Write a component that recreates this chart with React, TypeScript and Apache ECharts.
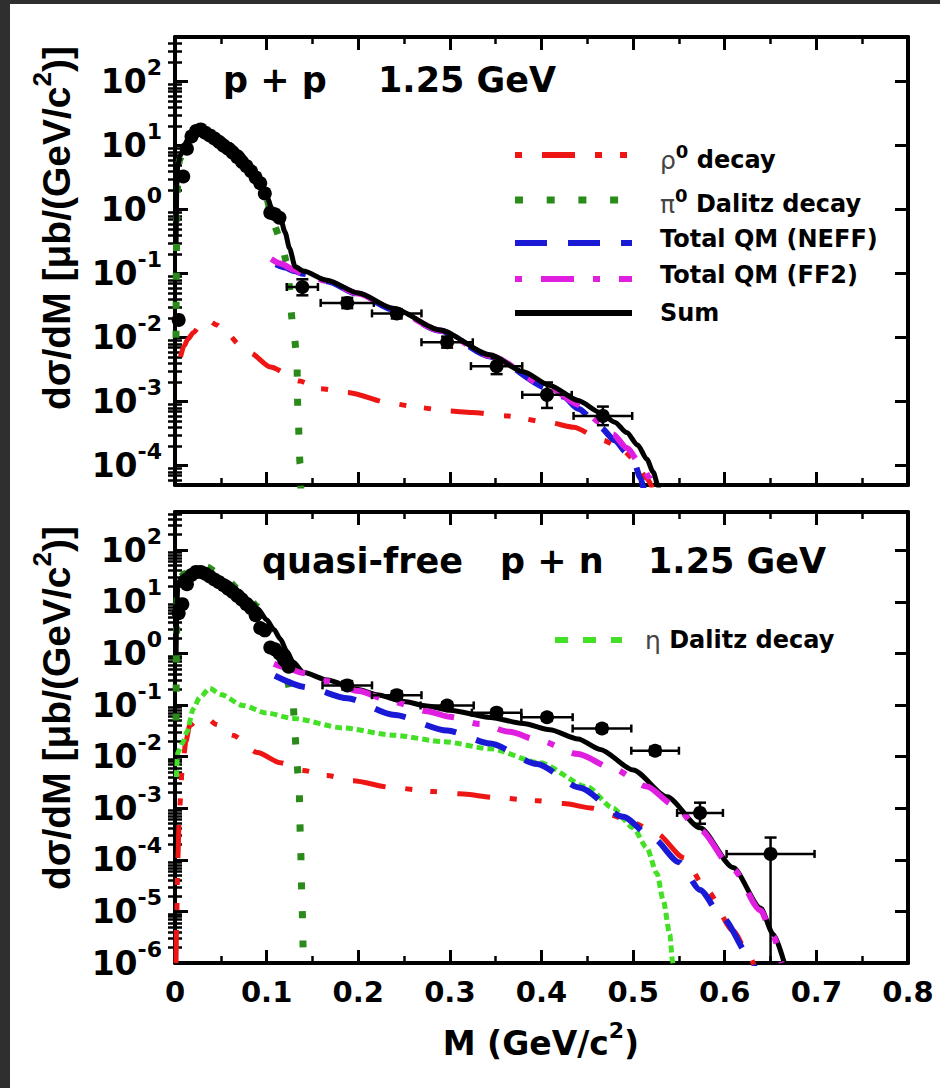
import React, { useEffect, useRef } from "react";
import * as echarts from "echarts";

const FONT = "'DejaVu Sans', sans-serif";
const FONT_H = "'Liberation Sans', Arial, sans-serif";

// ---------- p + p 1.25 GeV ----------
const ppSumM = [0.0012, 0.002, 0.003, 0.006, 0.01, 0.015, 0.02, 0.025, 0.03, 0.035, 0.04, 0.05, 0.06, 0.07, 0.08, 0.09, 0.1, 0.107, 0.115, 0.12, 0.125, 0.131, 0.14, 0.166, 0.2, 0.238, 0.289, 0.344, 0.38, 0.409, 0.44, 0.464, 0.48, 0.493, 0.505, 0.515, 0.522, 0.527, 0.531];
const ppSumV = [0.3, 2.5, 5, 7, 10, 13.5, 16.5, 19, 19, 17.5, 16, 13, 10.5, 8, 5.5, 3.4, 1.6, 0.95, 0.75, 0.45, 0.25, 0.13, 0.11, 0.079, 0.05, 0.0288, 0.0132, 0.0054, 0.00295, 0.0018, 0.00105, 0.00068, 0.00048, 0.00033, 0.00021, 0.000126, 0.000079, 0.00005, 0.000028];

const ppPi0M = [0.0011, 0.0015, 0.002, 0.003, 0.005, 0.01, 0.02, 0.03, 0.04, 0.06, 0.08, 0.1, 0.107, 0.115, 0.122, 0.129, 0.133, 0.134, 0.1365, 0.1375];
const ppPi0V = [0.01, 0.2, 0.8, 3, 6, 9.5, 16, 18, 15.5, 10, 5.3, 1.5, 0.62, 0.35, 0.15, 0.0145, 0.0052, 0.0008, 0.000107, 0.00003];

const ppRhoM = [0.006, 0.01, 0.014, 0.02, 0.028, 0.036, 0.045, 0.057, 0.07, 0.082, 0.104, 0.136, 0.158, 0.188, 0.238, 0.267, 0.297, 0.324, 0.362, 0.409, 0.435, 0.467, 0.486, 0.5, 0.508, 0.515, 0.521];
const ppRhoV = [0.005, 0.0075, 0.0095, 0.012, 0.016, 0.019, 0.016, 0.0117, 0.0079, 0.0058, 0.0035, 0.0021, 0.0016, 0.0014, 0.00093, 0.00081, 0.00072, 0.00068, 0.0006, 0.00047, 0.0004, 0.00025, 0.00019, 0.00013, 0.000083, 0.000063, 0.000045];

const ppNeffM = [0.11, 0.12, 0.13, 0.14, 0.166, 0.2, 0.238, 0.289, 0.344, 0.409, 0.424, 0.44, 0.464, 0.48, 0.493, 0.5, 0.508, 0.512];
const ppNeffV = [0.14, 0.125, 0.11, 0.1, 0.076, 0.048, 0.0275, 0.0128, 0.0051, 0.0016, 0.0012, 0.00078, 0.0004, 0.00025, 0.00016, 0.000125, 0.000065, 0.00004];

const ppFf2M = [0.105, 0.115, 0.13, 0.14, 0.166, 0.2, 0.238, 0.289, 0.344, 0.409, 0.44, 0.464, 0.478, 0.493, 0.508, 0.518, 0.523];
const ppFf2V = [0.17, 0.145, 0.115, 0.1, 0.077, 0.049, 0.0278, 0.013, 0.0052, 0.00165, 0.0009, 0.00048, 0.00031, 0.00019, 0.000107, 0.000065, 0.00004];

const ppDataM = [0.004, 0.009, 0.013, 0.018, 0.023, 0.028, 0.033, 0.038, 0.043, 0.048, 0.053, 0.058, 0.063, 0.068, 0.073, 0.078, 0.083, 0.088, 0.093, 0.098, 0.104, 0.109, 0.114];
const ppDataV = [0.019, 3.3, 9, 14, 17, 18, 16, 14.5, 13, 11.5, 10, 9, 7.8, 6.6, 5.6, 4.8, 4.0, 3.2, 2.6, 1.8, 0.9, 0.85, 0.75];

const ppErrM = [0.139, 0.188, 0.242, 0.297, 0.351, 0.406, 0.467];
const ppErrV = [0.062, 0.035, 0.024, 0.0085, 0.0036, 0.00128, 0.0006];
const ppErrDM = [0.017, 0.029, 0.027, 0.028, 0.028, 0.027, 0.032];
const ppErrLo = [0.046, 0.029, 0.02, 0.007, 0.0027, 0.0008, 0.00043];
const ppErrHi = [0.082, 0.042, 0.028, 0.0104, 0.0048, 0.002, 0.00084];

// ---------- quasi-free p + n 1.25 GeV ----------
const pnSumM = [0.0012, 0.002, 0.003, 0.006, 0.01, 0.015, 0.02, 0.027, 0.035, 0.045, 0.057, 0.07, 0.08, 0.09, 0.1, 0.108, 0.115, 0.122, 0.129, 0.14, 0.166, 0.2, 0.22, 0.25, 0.275, 0.3, 0.344, 0.38, 0.409, 0.44, 0.464, 0.5, 0.537, 0.573, 0.609, 0.639, 0.653, 0.665];
const pnSumV = [1, 8, 20, 28, 32, 36, 39, 41, 38, 31, 24, 16, 11, 7.4, 4.5, 2.9, 1.9, 1.1, 0.68, 0.43, 0.305, 0.2, 0.158, 0.117, 0.0955, 0.0794, 0.0575, 0.0437, 0.0331, 0.0219, 0.0138, 0.0055, 0.00166, 0.000417, 0.0000708, 0.0000117, 0.0000036, 0.000001];

const pnPi0M = [0.0011, 0.0015, 0.002, 0.003, 0.006, 0.01, 0.02, 0.035, 0.045, 0.057, 0.07, 0.08, 0.09, 0.1, 0.106, 0.111, 0.117, 0.122, 0.126, 0.129, 0.131, 0.133, 0.1355, 0.137, 0.1385, 0.14, 0.1408];
const pnPi0V = [0.05, 1, 8, 24, 30, 35, 42, 47, 38, 26, 17, 12, 8, 4.2, 2.3, 1.1, 0.6, 0.32, 0.18, 0.1, 0.026, 0.0076, 0.0024, 0.00021, 0.000018, 0.0000017, 0.0000008];

const pnRhoM = [0.0011, 0.002, 0.003, 0.005, 0.008, 0.012, 0.016, 0.025, 0.035, 0.045, 0.063, 0.09, 0.115, 0.14, 0.166, 0.194, 0.238, 0.282, 0.311, 0.351, 0.395, 0.424, 0.456, 0.475, 0.5, 0.526, 0.555, 0.581, 0.609, 0.628, 0.634];
const pnRhoV = [0.000001, 0.00001, 0.0001, 0.001, 0.006, 0.02, 0.04, 0.052, 0.055, 0.042, 0.026, 0.012, 0.0076, 0.0054, 0.0043, 0.0034, 0.0025, 0.0021, 0.0019, 0.0016, 0.0014, 0.00123, 0.001, 0.00074, 0.00052, 0.00032, 0.00011, 0.000025, 0.0000042, 0.00000126, 0.0000007];

const pnEtaM = [0.0015, 0.003, 0.008, 0.013, 0.02, 0.027, 0.038, 0.05, 0.074, 0.1, 0.129, 0.183, 0.238, 0.293, 0.344, 0.398, 0.45, 0.478, 0.5, 0.515, 0.526, 0.533, 0.54, 0.543, 0.5445];
const pnEtaV = [0.004, 0.012, 0.018, 0.03, 0.085, 0.14, 0.21, 0.16, 0.098, 0.07, 0.055, 0.036, 0.026, 0.0195, 0.0142, 0.0076, 0.0026, 0.001, 0.00042, 0.00017, 0.000054, 0.000016, 0.0000036, 0.0000011, 0.0000006];

const pnNeffM = [0.109, 0.144, 0.188, 0.238, 0.297, 0.344, 0.395, 0.442, 0.489, 0.522, 0.55, 0.573, 0.598, 0.628, 0.633];
const pnNeffV = [0.37, 0.22, 0.135, 0.065, 0.032, 0.018, 0.0072, 0.0025, 0.00068, 0.00026, 0.00009, 0.000026, 0.0000074, 0.00000126, 0.0000008];

const pnFf2M = [0.108, 0.12, 0.14, 0.166, 0.2, 0.238, 0.275, 0.3, 0.333, 0.365, 0.398, 0.44, 0.478, 0.515, 0.544, 0.573, 0.609, 0.639, 0.653, 0.662];
const pnFf2V = [0.63, 0.537, 0.417, 0.29, 0.186, 0.115, 0.0759, 0.0589, 0.0427, 0.0302, 0.0204, 0.0112, 0.00589, 0.00263, 0.00117, 0.00038, 0.000066, 0.0000105, 0.0000033, 0.000001];

const pnDataM = [0.004, 0.008, 0.013, 0.018, 0.023, 0.028, 0.033, 0.038, 0.043, 0.048, 0.053, 0.058, 0.063, 0.068, 0.073, 0.078, 0.083, 0.088, 0.093, 0.098, 0.104, 0.109, 0.114, 0.119, 0.124];
const pnDataV = [6, 9, 22, 33, 38, 38, 35, 31, 27, 24, 21, 18, 15.5, 13, 11, 9, 7.5, 5.5, 3.1, 2.8, 1.3, 1.2, 1.0, 0.75, 0.55];

const pnErrM = [0.188, 0.242, 0.297, 0.351, 0.406, 0.466, 0.524, 0.573, 0.65];
const pnErrV = [0.24, 0.155, 0.098, 0.071, 0.058, 0.035, 0.013, 0.00081, 0.00013];
const pnErrDM = [0.027, 0.027, 0.029, 0.027, 0.028, 0.032, 0.026, 0.025, 0.048];
const pnErrLo = [0.2, 0.13, 0.085, 0.062, 0.05, 0.03, 0.011, 0.0005, 0.00000101];
const pnErrHi = [0.29, 0.185, 0.113, 0.082, 0.067, 0.041, 0.0155, 0.00128, 0.00027];

// ---------- axes ----------
const xRange = [0, 0.8];
const ppYRange = [5e-5, 500];
const pnYRange = [1e-6, 550];

const COLORS = { rho: "#ee1515", pi0: "#2a8a1a", neff: "#1a1ad6", ff2: "#e01ee0", eta: "#44e026", sum: "#000000" };
const DASH = { rho: [33, 20, 7, 18, 7, 20], pi0: [7, 22], neff: [32, 21], ff2: [33, 19, 7, 19], eta: [7, 4] };

const toLog = (ms: number[], vs: number[]) => ms.map((m, i) => [m, Math.log10(vs[i])]);
const errData = (ms: number[], vs: number[], dms: number[], lo: number[], hi: number[]) =>
  ms.map((m, i) => [m, Math.log10(vs[i]), m - dms[i], m + dms[i], Math.log10(lo[i]), Math.log10(hi[i])]);

const majorTicks = (min: number, max: number) => {
  const r: number[] = [];
  for (let n = Math.ceil(min - 1e-9); n <= Math.floor(max + 1e-9); n++) r.push(n);
  return r;
};
const minorTicks = (min: number, max: number) => {
  const r: number[] = [];
  for (let n = Math.floor(min); n <= Math.ceil(max); n++)
    for (let k = 2; k <= 9; k++) {
      const v = n + Math.log10(k);
      if (v > min + 1e-6 && v < max - 1e-6) r.push(v);
    }
  return r;
};

function buildOption() {
  const panels = [
    { top: 37, height: 448, yMin: Math.log10(ppYRange[0]), yMax: Math.log10(ppYRange[1]) },
    { top: 512, height: 451, yMin: Math.log10(pnYRange[0]), yMax: Math.log10(pnYRange[1]) },
  ];
  const grid = panels.map((p) => ({ left: 175, top: p.top, width: 733, height: p.height, containLabel: false, outerBoundsMode: "none" }));

  const axisLine = { show: true, onZero: false, lineStyle: { color: "#000", width: 4 } };
  const majTick = { color: "#000", width: 3 };
  const minTick = { color: "#000", width: 2.5 };

  const xAxis: any[] = [];
  const yAxis: any[] = [];
  panels.forEach((p, g) => {
    const xb = {
      gridIndex: g, type: "value", min: xRange[0], max: xRange[1], interval: 0.1,
      splitLine: { show: false }, axisLine,
      axisTick: { show: true, inside: true, length: 13, lineStyle: majTick },
      minorTick: { show: true, splitNumber: 2, length: 7, lineStyle: minTick },
    };
    xAxis.push({
      ...xb, position: "bottom",
      axisLabel: g === 1
        ? { show: true, margin: 14, fontFamily: FONT, fontWeight: "bold", fontSize: 29, color: "#000", showMinLabel: true, showMaxLabel: true,
            formatter: (v: number) => (v === 0 ? "0" : v.toFixed(1)) }
        : { show: false },
    });
    xAxis.push({ ...xb, position: "top", axisLabel: { show: false } });

    const majors = majorTicks(p.yMin, p.yMax);
    const minors = minorTicks(p.yMin, p.yMax);
    const yb = { gridIndex: g, type: "value", min: p.yMin, max: p.yMax, splitLine: { show: false }, minorTick: { show: false } };
    yAxis.push({
      ...yb, position: "left", axisLine,
      axisTick: { show: true, inside: true, length: 13, customValues: majors, lineStyle: majTick },
      axisLabel: {
        show: true, customValues: majors, margin: 13,
        formatter: (v: number) => `{b|10}{s|${Math.round(v)}}`,
        rich: {
          b: { fontFamily: FONT, fontWeight: "bold", fontSize: 33, lineHeight: 50, color: "#000" },
          s: { fontFamily: FONT, fontWeight: "bold", fontSize: 22, lineHeight: 22, verticalAlign: "top", color: "#000" },
        },
      },
    });
    yAxis.push({ ...yb, position: "left", axisLine: { show: false }, axisTick: { show: true, inside: true, length: 7, customValues: minors, lineStyle: minTick }, axisLabel: { show: false } });
    yAxis.push({ ...yb, position: "right", axisLine, axisTick: { show: true, inside: true, length: 13, customValues: majors, lineStyle: majTick }, axisLabel: { show: false } });
    yAxis.push({ ...yb, position: "right", axisLine: { show: false }, axisTick: { show: true, inside: true, length: 7, customValues: minors, lineStyle: minTick }, axisLabel: { show: false } });
  });

  const line = (g: number, name: string, data: number[][], color: string, width: number, dash: any, z: number) => ({
    type: "line", name, xAxisIndex: 2 * g, yAxisIndex: 4 * g, data, showSymbol: false, symbol: "none",
    smooth: 0.25, smoothMonotone: "x", clip: true, z,
    lineStyle: { color, width, type: dash, cap: "butt", join: "round" },
  });
  const points = (g: number, data: number[][]) => ({
    type: "scatter", xAxisIndex: 2 * g, yAxisIndex: 4 * g, data, symbol: "circle", symbolSize: 14,
    itemStyle: { color: "#000", opacity: 1 }, z: 6, clip: true,
  });
  const errors = (g: number, data: number[][]) => ({
    type: "custom", xAxisIndex: 2 * g, yAxisIndex: 4 * g, data, z: 6, clip: true,
    encode: { x: [0, 2, 3], y: [1, 4, 5] },
    renderItem: (params: any, api: any) => {
      const x = api.value(0), y = api.value(1);
      const c = api.coord([x, y]);
      const l = api.coord([api.value(2), y]);
      const r = api.coord([api.value(3), y]);
      const b = api.coord([x, api.value(4)]);
      const t = api.coord([x, api.value(5)]);
      const st = { stroke: "#000", lineWidth: 2.5 };
      return {
        type: "group",
        children: [
          { type: "line", shape: { x1: l[0], y1: c[1], x2: r[0], y2: c[1] }, style: st },
          { type: "line", shape: { x1: l[0], y1: c[1] - 4, x2: l[0], y2: c[1] + 4 }, style: st },
          { type: "line", shape: { x1: r[0], y1: c[1] - 4, x2: r[0], y2: c[1] + 4 }, style: st },
          { type: "line", shape: { x1: c[0], y1: b[1], x2: c[0], y2: t[1] }, style: st },
          { type: "line", shape: { x1: c[0] - 6, y1: t[1], x2: c[0] + 6, y2: t[1] }, style: st },
          { type: "line", shape: { x1: c[0] - 6, y1: b[1], x2: c[0] + 6, y2: b[1] }, style: st },
        ],
      };
    },
  });

  const series = [
    line(0, "rho", toLog(ppRhoM, ppRhoV), COLORS.rho, 5, DASH.rho, 2),
    line(0, "pi0", toLog(ppPi0M, ppPi0V), COLORS.pi0, 7, DASH.pi0, 2),
    line(0, "neff", toLog(ppNeffM, ppNeffV), COLORS.neff, 6, DASH.neff, 3),
    line(0, "ff2", toLog(ppFf2M, ppFf2V), COLORS.ff2, 6, DASH.ff2, 3),
    line(0, "sum", toLog(ppSumM, ppSumV), COLORS.sum, 5, "solid", 4),
    points(0, toLog(ppDataM, ppDataV)),
    points(0, toLog(ppErrM, ppErrV)),
    errors(0, errData(ppErrM, ppErrV, ppErrDM, ppErrLo, ppErrHi)),

    line(1, "rho", toLog(pnRhoM, pnRhoV), COLORS.rho, 5, DASH.rho, 2),
    line(1, "pi0", toLog(pnPi0M, pnPi0V), COLORS.pi0, 7, DASH.pi0, 2),
    line(1, "eta", toLog(pnEtaM, pnEtaV), COLORS.eta, 5, DASH.eta, 2),
    line(1, "neff", toLog(pnNeffM, pnNeffV), COLORS.neff, 6, DASH.neff, 3),
    line(1, "sum", toLog(pnSumM, pnSumV), COLORS.sum, 5, "solid", 3),
    line(1, "ff2", toLog(pnFf2M, pnFf2V), COLORS.ff2, 6, DASH.ff2, 4),
    points(1, toLog(pnDataM, pnDataV)),
    points(1, toLog(pnErrM, pnErrV)),
    errors(1, errData(pnErrM, pnErrV, pnErrDM, pnErrLo, pnErrHi)),
  ];

  const titleStyle = (text: string) => ({ text, fontFamily: FONT, fontWeight: "bold", fontSize: 35, fill: "#000", align: "left", verticalAlign: "middle" });
  const legRich = {
    t: { fontFamily: FONT, fontWeight: "bold", fontSize: 24, lineHeight: 36, fill: "#000", color: "#000" },
    g: { fontFamily: FONT, fontWeight: "normal", fontSize: 25, lineHeight: 36, fill: "#444", color: "#444" },
    s: { fontFamily: FONT, fontWeight: "bold", fontSize: 18, lineHeight: 18, verticalAlign: "top", fill: "#000", color: "#000" },
  };
  const legText = (x: number, y: number, text: string) => ({
    type: "text", x, y, z: 20, style: { text, rich: legRich, align: "left", verticalAlign: "middle" },
  });
  const legLine = (x1: number, x2: number, y: number, color: string, width: number, dash: number[] | null) => ({
    type: "line", z: 20, shape: { x1, y1: y, x2, y2: y },
    style: { stroke: color, lineWidth: width, lineDash: dash || undefined, lineCap: "butt" },
  });
  const yTitleRich = {
    t: { fontFamily: FONT_H, fontWeight: "bold", fontSize: 39, lineHeight: 54, fill: "#000", color: "#000" },
    s: { fontFamily: FONT_H, fontWeight: "bold", fontSize: 26, lineHeight: 26, verticalAlign: "top", fill: "#000", color: "#000" },
  };
  const yTitleText = "{t|dσ/dM [μb/(GeV/c}{s|2}{t|)]}";

  const graphic = [
    { type: "rect", z: 30, shape: { x: 0, y: 0, width: 940, height: 4 }, style: { fill: "#2f2f2f" } },
    { type: "rect", z: 30, shape: { x: 0, y: 0, width: 10, height: 1088 }, style: { fill: "#2f2f2f" } },

    { type: "text", x: 223, y: 80, z: 20, style: titleStyle("p + p") },
    { type: "text", x: 378, y: 80, z: 20, style: titleStyle("1.25 GeV") },
    { type: "text", x: 262, y: 561, z: 20, style: titleStyle("quasi-free") },
    { type: "text", x: 500, y: 561, z: 20, style: titleStyle("p + n") },
    { type: "text", x: 648, y: 561, z: 20, style: titleStyle("1.25 GeV") },

    { type: "text", x: 56, y: 228, rotation: Math.PI / 2, z: 20, style: { text: yTitleText, rich: yTitleRich, align: "center", verticalAlign: "middle" } },
    { type: "text", x: 56, y: 708, rotation: Math.PI / 2, z: 20, style: { text: yTitleText, rich: yTitleRich, align: "center", verticalAlign: "middle" } },
    {
      type: "text", x: 541, y: 1043, z: 20,
      style: {
        text: "{t|M (GeV/c}{s|2}{t|)}", align: "center", verticalAlign: "middle",
        rich: {
          t: { fontFamily: FONT, fontWeight: "bold", fontSize: 33, lineHeight: 48, fill: "#000", color: "#000" },
          s: { fontFamily: FONT, fontWeight: "bold", fontSize: 22, lineHeight: 22, verticalAlign: "top", fill: "#000", color: "#000" },
        },
      },
    },

    legLine(515, 632, 155, COLORS.rho, 6, [7, 20, 33, 20, 7, 18]),
    legLine(515, 632, 200, COLORS.pi0, 7, [8, 23.7]),
    legLine(515, 632, 243, COLORS.neff, 6, [32, 21]),
    legLine(515, 632, 279, COLORS.ff2, 6, [7, 19, 33, 19]),
    legLine(515, 632, 313, COLORS.sum, 6, null),
    legText(660, 160, "{g|ρ}{s|0}{t| decay}"),
    legText(660, 204, "{g|π}{s|0}{t| Dalitz decay}"),
    legText(660, 239, "{t|Total QM (NEFF)}"),
    legText(660, 275, "{t|Total QM (FF2)}"),
    legText(660, 313, "{t|Sum}"),

    legLine(555, 622, 640, COLORS.eta, 6, [13, 15]),
    legText(645, 640, "{g|η}{t| Dalitz decay}"),
  ];

  return {
    animation: false,
    backgroundColor: "#ffffff",
    textStyle: { fontFamily: FONT },
    grid,
    xAxis,
    yAxis,
    series,
    graphic,
  };
}

export default function App() {
  const ref = useRef<HTMLDivElement>(null);
  useEffect(() => {
    const chart = echarts.init(ref.current as HTMLDivElement, null, { renderer: "svg" });
    chart.setOption(buildOption() as any);
    return () => chart.dispose();
  }, []);
  return (
    <div
      ref={ref}
      style={{ position: "absolute", left: 0, top: 0, width: 940, height: 1088, background: "#fff" }}
    />
  );
}
